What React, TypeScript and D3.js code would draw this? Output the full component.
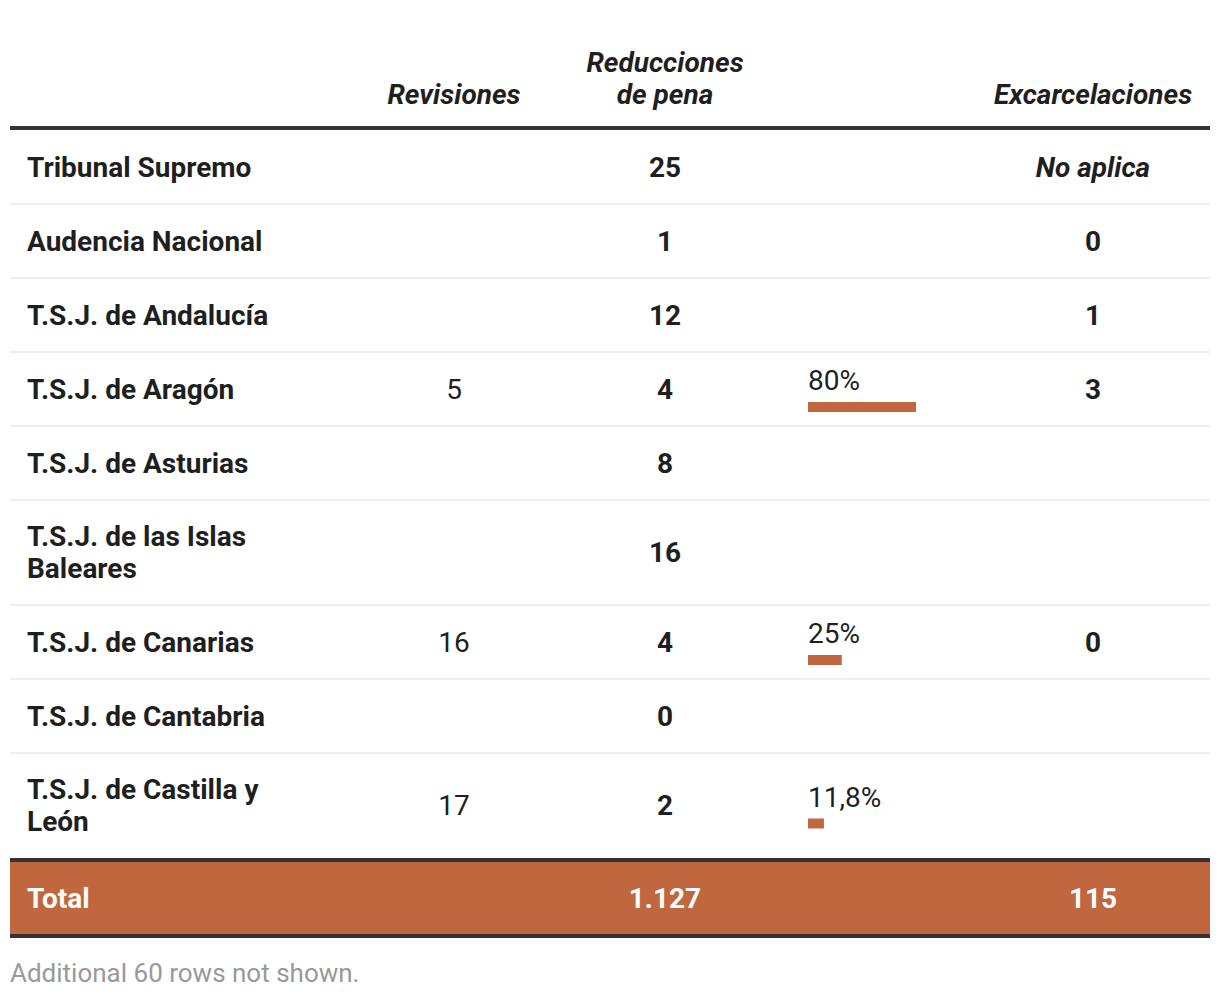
import React, { useEffect, useRef } from "react";
import * as d3 from "d3";

const courts = [
  "Tribunal Supremo",
  "Audencia Nacional",
  "T.S.J. de Andalucía",
  "T.S.J. de Aragón",
  "T.S.J. de Asturias",
  "T.S.J. de las Islas\nBaleares",
  "T.S.J. de Canarias",
  "T.S.J. de Cantabria",
  "T.S.J. de Castilla y\nLeón",
];
const revisiones = [null, null, null, 5, null, null, 16, null, 17];
const reducciones = [25, 1, 12, 4, 8, 16, 4, 0, 2];
const porcentaje = [null, null, null, 80, null, null, 25, null, 11.8];
const excarcelaciones: (number | string | null)[] = ["No aplica", 0, 1, 3, null, null, 0, null, null];
const totalReducciones = 1127;
const totalExcarcelaciones = 115;
const hiddenRows = 60;

const W = 1220;
const H = 998;
const ORANGE = "#c0673f";
const DARK = "#333333";
const TEXT = "#1f1f1f";
const FONT = "Roboto, 'Noto Sans', sans-serif";

const es = d3.formatLocale({ decimal: ",", thousands: ".", grouping: [3], currency: ["", " €"] });
const fmtInt = (v: number) => es.format(",")(v);
const fmtPct = (v: number) => es.format(",")(v) + "%";

export default function App() {
  const ref = useRef<SVGSVGElement>(null);

  useEffect(() => {
    const svg = d3.select(ref.current);
    svg.selectAll("*").remove();

    const left = 10;
    const right = 1210;
    const colX = { label: 27, rev: 454, red: 665, bar: 808, exc: 1093 };
    const barW = d3.scaleLinear().domain([0, 100]).range([0, 135]);

    // header
    const head = svg.append("g").attr("font-family", FONT).attr("font-weight", 700)
      .attr("font-style", "italic").attr("font-size", 28).attr("fill", TEXT).attr("text-anchor", "middle");
    head.append("text").attr("x", colX.rev).attr("y", 104).text("Revisiones");
    head.append("text").attr("x", colX.red).attr("y", 72).text("Reducciones");
    head.append("text").attr("x", colX.red).attr("y", 104).text("de pena");
    head.append("text").attr("x", colX.exc).attr("y", 104).text("Excarcelaciones");
    svg.append("rect").attr("x", left).attr("y", 126).attr("width", right - left).attr("height", 4).attr("fill", DARK);

    // rows
    const heights = courts.map((c) => (c.split("\n").length > 1 ? 105 : 74));
    let y = 130;
    const body = svg.append("g").attr("font-family", FONT).attr("font-size", 28).attr("fill", TEXT);
    courts.forEach((c, i) => {
      const h = heights[i];
      const cy = y + h / 2;
      const lines = c.split("\n");
      const lh = 32;
      lines.forEach((ln, j) => {
        body.append("text").attr("x", colX.label)
          .attr("y", cy + (j - (lines.length - 1) / 2) * lh).attr("dy", "0.35em")
          .attr("font-weight", 700).text(ln);
      });
      if (revisiones[i] != null) {
        body.append("text").attr("x", colX.rev).attr("y", cy).attr("dy", "0.35em")
          .attr("text-anchor", "middle").text(fmtInt(revisiones[i] as number));
      }
      body.append("text").attr("x", colX.red).attr("y", cy).attr("dy", "0.35em")
        .attr("text-anchor", "middle").attr("font-weight", 700).text(fmtInt(reducciones[i]));
      const p = porcentaje[i];
      if (p != null) {
        body.append("text").attr("x", colX.bar).attr("y", cy + 1).text(fmtPct(p));
        body.append("rect").attr("x", colX.bar).attr("y", cy + 13).attr("width", barW(p)).attr("height", 10).attr("fill", ORANGE);
      }
      const e = excarcelaciones[i];
      if (e != null) {
        body.append("text").attr("x", colX.exc).attr("y", cy).attr("dy", "0.35em")
          .attr("text-anchor", "middle").attr("font-weight", 700)
          .attr("font-style", typeof e === "string" ? "italic" : "normal")
          .text(typeof e === "string" ? e : fmtInt(e));
      }
      y += h;
      if (i < courts.length - 1) {
        body.append("rect").attr("x", left).attr("y", y - 1).attr("width", right - left).attr("height", 2).attr("fill", "#eeeeee");
      }
    });

    // total row
    svg.append("rect").attr("x", left).attr("y", y).attr("width", right - left).attr("height", 4).attr("fill", DARK);
    svg.append("rect").attr("x", left).attr("y", y + 4).attr("width", right - left).attr("height", 72).attr("fill", ORANGE);
    svg.append("rect").attr("x", left).attr("y", y + 76).attr("width", right - left).attr("height", 4).attr("fill", DARK);
    const ty = y + 40;
    const tot = svg.append("g").attr("font-family", FONT).attr("font-size", 28).attr("font-weight", 700).attr("fill", "#ffffff");
    tot.append("text").attr("x", colX.label).attr("y", ty).attr("dy", "0.35em").text("Total");
    tot.append("text").attr("x", colX.red).attr("y", ty).attr("dy", "0.35em").attr("text-anchor", "middle").text(fmtInt(totalReducciones));
    tot.append("text").attr("x", colX.exc).attr("y", ty).attr("dy", "0.35em").attr("text-anchor", "middle").text(fmtInt(totalExcarcelaciones));

    svg.append("text").attr("x", left).attr("y", y + 124).attr("font-family", FONT).attr("font-size", 26)
      .attr("fill", "#999999").text(`Additional ${hiddenRows} rows not shown.`);
  }, []);

  return (
    <svg ref={ref} width={W} height={H}
      style={{ position: "absolute", left: 0, top: 0, background: "#ffffff" }} />
  );
}
